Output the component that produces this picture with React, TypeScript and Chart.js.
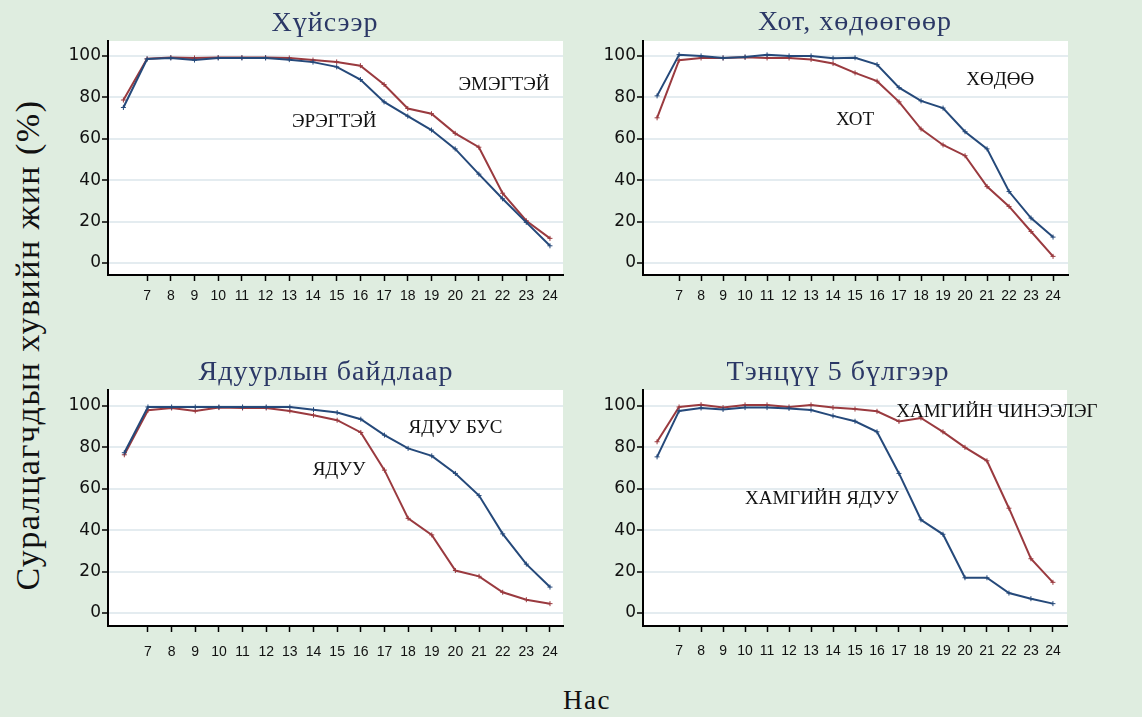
import React, { useEffect, useRef } from "react";
import { Chart, registerables } from "chart.js";

Chart.register(...registerables);

// ---------- data ----------
const AGES = [6, 7, 8, 9, 10, 11, 12, 13, 14, 15, 16, 17, 18, 19, 20, 21, 22, 23, 24];
const X_TICKS = [7, 8, 9, 10, 11, 12, 13, 14, 15, 16, 17, 18, 19, 20, 21, 22, 23, 24];
const Y_TICKS = [0, 20, 40, 60, 80, 100];

// Хүйсээр
const MALE = [75.1, 98.5, 99, 98, 99, 99, 99, 98.2, 97, 94.7, 88.6, 77.8, 70.9, 64.2, 55.1, 42.9, 31, 19.6, 8.3];
const FEMALE = [78.7, 98.6, 99.2, 99, 99.2, 99.2, 99.2, 99, 98, 97.1, 95.3, 86.2, 74.6, 72.1, 62.6, 55.9, 33.7, 20.4, 11.9];
// Хот, хөдөөгөөр
const RURAL = [80.7, 100.6, 100, 99, 99.5, 100.5, 100, 100, 98.9, 99.1, 95.8, 84.7, 78.3, 74.8, 63.4, 55.1, 34.5, 21.7, 12.5];
const URBAN = [70.1, 97.9, 99, 99, 99.3, 99, 99, 98.3, 96.3, 91.8, 87.8, 77.8, 64.7, 57, 51.8, 36.9, 27.3, 15.2, 3.2];
// Ядуурлын байдлаар
const NONPOOR = [77.4, 99.5, 99.5, 99.5, 99.5, 99.5, 99.5, 99.5, 98.2, 96.8, 93.6, 85.9, 79.5, 75.9, 67.4, 56.7, 38.2, 23.6, 12.5];
const POOR = [76.4, 97.9, 99, 97.6, 99.2, 99, 99, 97.6, 95.5, 93.1, 87.2, 69, 45.7, 37.7, 20.5, 17.7, 10, 6.4, 4.5];
// Тэнцүү 5 бүлгээр
const RICHEST = [82.7, 99.5, 100.6, 99.2, 100.5, 100.5, 99.5, 100.5, 99.2, 98.5, 97.4, 92.5, 94.2, 87.5, 80, 73.5, 50.6, 26.2, 14.8];
const POOREST = [75.4, 97.6, 99, 98.3, 99.2, 99.2, 98.8, 98, 95.2, 92.6, 87.5, 67.4, 45, 38, 17, 17, 9.6, 6.9, 4.5];

const TITLES = ["Хүйсээр", "Хот, хөдөөгөөр", "Ядуурлын байдлаар", "Тэнцүү 5 бүлгээр"];
const LABELS_1 = ["ЭРЭГТЭЙ", "ЭМЭГТЭЙ"];
const LABELS_2 = ["ХӨДӨӨ", "ХОТ"];
const LABELS_3 = ["ЯДУУ БУС", "ЯДУУ"];
const LABELS_4 = ["ХАМГИЙН ЯДУУ", "ХАМГИЙН ЧИНЭЭЛЭГ"];
const Y_LABEL = "Суралцагчдын хувийн жин (%)";
const X_LABEL = "Нас";

// ---------- styles ----------
const BG = "#dfede0";
const BLUE = "#25497a";
const RED = "#9a3a3f";
const NAVY = "#2b3866";
const GRID = "#e4ecf0";

type Note = { text: string; x: number; y: number };
type Panel = {
  title: string;
  titleX: number;
  titleY: number;
  box: { left: number; top: number; width: number; height: number };
  area: { left: number; right: number; top: number; bottom: number };
  xRange: [number, number];
  yRange: [number, number];
  tickPad: number;
  series: { label: string; values: number[]; color: string }[];
  notes: Note[];
};

const PANELS: Panel[] = [
  {
    title: TITLES[0],
    titleX: 265,
    titleY: 31,
    box: { left: 60, top: 0, width: 520, height: 320 },
    area: { left: 48, right: 503, top: 41, bottom: 275 },
    xRange: [5.35, 24.55],
    yRange: [-5.8, 107.2],
    tickPad: 7,
    series: [
      { label: LABELS_1[0], values: MALE, color: BLUE },
      { label: LABELS_1[1], values: FEMALE, color: RED },
    ],
    notes: [
      { text: LABELS_1[0], x: 14.9, y: 65.7 },
      { text: LABELS_1[1], x: 22.06, y: 83.6 },
    ],
  },
  {
    title: TITLES[1],
    titleX: 275,
    titleY: 30,
    box: { left: 580, top: 0, width: 562, height: 320 },
    area: { left: 63, right: 488, top: 41, bottom: 275 },
    xRange: [5.36, 24.68],
    yRange: [-5.8, 107.2],
    tickPad: 7,
    series: [
      { label: LABELS_2[0], values: RURAL, color: BLUE },
      { label: LABELS_2[1], values: URBAN, color: RED },
    ],
    notes: [
      { text: LABELS_2[0], x: 21.6, y: 86 },
      { text: LABELS_2[1], x: 15, y: 66.7 },
    ],
  },
  {
    title: TITLES[2],
    titleX: 266,
    titleY: 40,
    box: { left: 60, top: 340, width: 520, height: 320 },
    area: { left: 48, right: 503, top: 50, bottom: 286 },
    xRange: [5.31, 24.55],
    yRange: [-6.3, 107.7],
    tickPad: 12,
    series: [
      { label: LABELS_3[0], values: NONPOOR, color: BLUE },
      { label: LABELS_3[1], values: POOR, color: RED },
    ],
    notes: [
      { text: LABELS_3[0], x: 20.0, y: 87 },
      { text: LABELS_3[1], x: 15.08, y: 66.7 },
    ],
  },
  {
    title: TITLES[3],
    titleX: 258,
    titleY: 40,
    box: { left: 580, top: 340, width: 562, height: 320 },
    area: { left: 63, right: 487, top: 50, bottom: 286 },
    xRange: [5.36, 24.64],
    yRange: [-6.3, 107.7],
    tickPad: 11,
    series: [
      { label: LABELS_4[0], values: POOREST, color: BLUE },
      { label: LABELS_4[1], values: RICHEST, color: RED },
    ],
    notes: [
      { text: LABELS_4[1], x: 21.45, y: 94.7 },
      { text: LABELS_4[0], x: 13.5, y: 52.7 },
    ],
  },
];

const textPlugin = {
  id: "panelText",
  afterDraw(chart: any, _args: any, opts: any) {
    const ctx = chart.ctx as any;
    const xs = chart.scales.x;
    const ys = chart.scales.y;
    ctx.save();
    ctx.textAlign = "center";
    ctx.textBaseline = "alphabetic";
    ctx.fillStyle = NAVY;
    ctx.font = '28px "Liberation Serif", "Times New Roman", serif';
    ctx.letterSpacing = "1px";
    ctx.fillText(opts.title, opts.titleX, opts.titleY);
    ctx.letterSpacing = "0px";
    ctx.fillStyle = "#111";
    ctx.font = '19px "Liberation Serif", "Times New Roman", serif';
    (opts.notes as Note[]).forEach((n) => {
      ctx.fillText(n.text, xs.getPixelForValue(n.x), ys.getPixelForValue(n.y));
    });
    ctx.restore();
  },
};

function PanelChart({ panel }: { panel: Panel }) {
  const ref = useRef<HTMLCanvasElement | null>(null);
  useEffect(() => {
    if (!ref.current) return;
    const { box, area } = panel;
    const chart = new Chart(ref.current, {
      type: "line",
      data: {
        datasets: panel.series.map((s) => ({
          label: s.label,
          data: AGES.map((a, i) => ({ x: a, y: s.values[i] })),
          borderColor: s.color,
          backgroundColor: s.color,
          borderWidth: 2,
          pointStyle: "cross",
          pointRadius: 2.5,
          pointBorderWidth: 1,
          pointBorderColor: s.color,
          tension: 0,
          fill: false,
        })),
      },
      options: {
        responsive: false,
        animation: false,
        events: [],
        layout: {
          padding: { top: area.top, right: box.width - area.right, left: 0, bottom: 0 },
        },
        plugins: {
          legend: { display: false },
          tooltip: { enabled: false },
          title: { display: false },
          panelText: { title: panel.title, titleX: panel.titleX, titleY: panel.titleY, notes: panel.notes },
        } as any,
        scales: {
          x: {
            type: "linear",
            min: panel.xRange[0],
            max: panel.xRange[1],
            afterBuildTicks: (s: any) => {
              s.ticks = X_TICKS.map((v) => ({ value: v }));
            },
            afterFit: (s: any) => {
              s.height = box.height - area.bottom;
            },
            grid: {
              drawOnChartArea: false,
              drawTicks: true,
              tickLength: 6,
              tickColor: "#000",
              tickWidth: 1.5,
            },
            border: { display: true, color: "#000", width: 2 },
            ticks: {
              autoSkip: false,
              maxRotation: 0,
              minRotation: 0,
              padding: panel.tickPad,
              color: "#111",
              font: { family: '"Liberation Sans", Arial, sans-serif', size: 14 },
              callback: (v: any) => String(v),
            },
          },
          y: {
            type: "linear",
            min: panel.yRange[0],
            max: panel.yRange[1],
            afterBuildTicks: (s: any) => {
              s.ticks = Y_TICKS.map((v) => ({ value: v }));
            },
            afterFit: (s: any) => {
              s.width = area.left;
            },
            grid: {
              drawOnChartArea: true,
              drawTicks: true,
              color: GRID,
              lineWidth: 2,
              tickLength: 6,
              tickColor: "#000",
              tickWidth: 1.5,
            },
            border: { display: true, color: "#000", width: 2 },
            ticks: {
              padding: 1,
              color: "#111",
              font: { family: '"DejaVu Sans", sans-serif', size: 17 },
              callback: (v: any) => String(v),
            },
          },
        },
      },
      plugins: [
        textPlugin as any,
        {
          id: "whiteArea",
          beforeDraw(c: any) {
            const { ctx, chartArea } = c;
            ctx.save();
            ctx.fillStyle = "#ffffff";
            ctx.fillRect(chartArea.left, chartArea.top, chartArea.right - chartArea.left, chartArea.bottom - chartArea.top);
            ctx.restore();
          },
        },
      ],
    } as any);
    return () => chart.destroy();
  }, [panel]);
  return (
    <canvas
      ref={ref}
      width={panel.box.width}
      height={panel.box.height}
      style={{
        position: "absolute",
        left: panel.box.left,
        top: panel.box.top,
        width: panel.box.width,
        height: panel.box.height,
      }}
    />
  );
}

export default function App() {
  return (
    <div
      style={{
        position: "absolute",
        left: 0,
        top: 0,
        width: 1142,
        height: 717,
        background: BG,
        overflow: "hidden",
      }}
    >
      {PANELS.map((p, i) => (
        <PanelChart key={i} panel={p} />
      ))}
      <div
        style={{
          position: "absolute",
          left: 28,
          top: 345,
          transform: "translate(-50%, -50%) rotate(-90deg)",
          whiteSpace: "nowrap",
          fontFamily: '"Liberation Serif", "Times New Roman", serif',
          fontSize: 34,
          letterSpacing: 1.5,
          lineHeight: 1,
          color: "#111",
        }}
      >
        {Y_LABEL}
      </div>
      <div
        style={{
          position: "absolute",
          left: 587,
          top: 687,
          transform: "translateX(-50%)",
          whiteSpace: "nowrap",
          fontFamily: '"Liberation Serif", "Times New Roman", serif',
          fontSize: 27,
          letterSpacing: 1.5,
          lineHeight: 1,
          color: "#111",
        }}
      >
        {X_LABEL}
      </div>
    </div>
  );
}
